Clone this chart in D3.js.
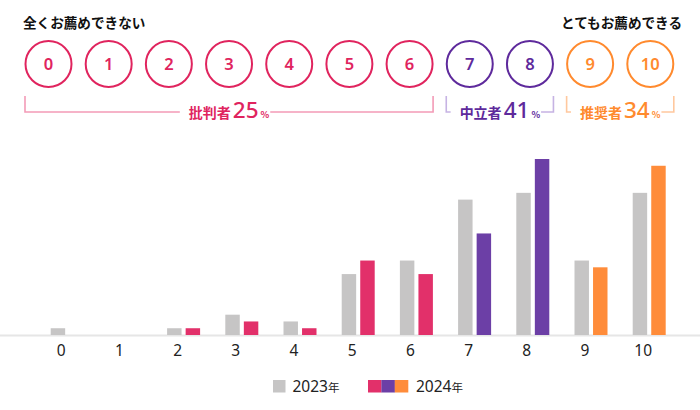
<!DOCTYPE html>
<html>
<head>
<meta charset="utf-8">
<script src="https://cdn.jsdelivr.net/npm/d3@7"></script>
<style>
  html, body { margin: 0; padding: 0; background: #fff; }
  svg { display: block; }
</style>
</head>
<body>
<svg id="chart" width="700" height="410"></svg>
<script>
// ---- data ----
const categories = ["0","1","2","3","4","5","6","7","8","9","10"];
const years = ["2023","2024"];
const values2023 = [1, 0, 1, 3, 2, 9, 11, 20, 21, 11, 21];
const values2024 = [0, 0, 1, 2, 1, 11, 9, 15, 26, 10, 25];
const groupNames = ["批判者", "中立者", "推奨者"];
const groupShares = [25, 41, 34];
const groupMembers = [["0","6"], ["7","8"], ["9","10"]];
const leftLabel = "全くお薦めできない";
const rightLabel = "とてもお薦めできる";
const legendLabels = ["2023", "2024"];

// ---- styles ----
const groupColors = ["#e0245e", "#5e2a9c", "#ff8a2e"];
const groupLight = ["#f39bb7", "#c6b3e3", "#ffc89e"];
const barColors2024 = ["#e2306a", "#6c3fa6", "#ff8c3a"];
const grayColor = "#c6c5c5";
const jp = "'Noto Sans CJK JP', 'Noto Sans', sans-serif";

function groupOf(c) {
  const v = +c;
  return v <= 6 ? 0 : v <= 8 ? 1 : 2;
}

const svg = d3.select("#chart");

// ---- scales ----
const xCircle = d3.scalePoint().domain(categories).range([48.5, 650.3]);
const x = d3.scaleBand().domain(categories).range([38.1, 678.3]).paddingInner(0).paddingOuter(0);
const xSub = d3.scaleBand().domain(years).range([-16.5, 16.5]).paddingInner(0.22);
const y = d3.scaleLinear().domain([0, 26]).range([335, 159]);

// ---- top labels ----
svg.append("text").attr("x", 23).attr("y", 28)
  .attr("font-family", jp).attr("font-weight", 700).attr("font-size", 13.6)
  .attr("fill", "#111").text(leftLabel);
svg.append("text").attr("x", 682).attr("y", 28).attr("text-anchor", "end")
  .attr("font-family", jp).attr("font-weight", 700).attr("font-size", 13.6)
  .attr("fill", "#111").text(rightLabel);

// ---- circles ----
const cg = svg.append("g").selectAll("g").data(categories).join("g")
  .attr("transform", d => `translate(${xCircle(d)},64)`);
cg.append("circle").attr("r", 23).attr("fill", "#fff")
  .attr("stroke", d => groupColors[groupOf(d)]).attr("stroke-width", 2);
cg.append("text").attr("text-anchor", "middle").attr("dy", "0.36em")
  .attr("font-family", "'Noto Sans', sans-serif").attr("font-weight", 600)
  .attr("font-size", 16.5).attr("fill", d => groupColors[groupOf(d)]).text(d => d);

// ---- brackets ----
const r = 24;
groupNames.forEach((name, i) => {
  const x0 = xCircle(groupMembers[i][0]) - r + 0.5;
  const x1 = xCircle(groupMembers[i][1]) + r - 0.5;
  const top = 96, base = 112;
  const g = svg.append("g");
  const t = g.append("text").attr("y", 118).attr("font-family", jp).attr("fill", groupColors[i]);
  t.append("tspan").attr("font-size", 14).attr("font-weight", 700).text(name);
  t.append("tspan").attr("font-size", 22.5).attr("font-weight", 500)
    .attr("font-family", "'Noto Sans', sans-serif").attr("dx", 2).text(groupShares[i]);
  t.append("tspan").attr("font-size", 9).attr("font-weight", 700).attr("dx", 2).text("%");
  const tw = t.node().getComputedTextLength();
  const cx = (x0 + x1) / 2 - 2;
  const tx = cx - tw / 2;
  t.attr("x", tx);
  const gapL = tx - 9, gapR = tx + tw + 5;
  const path = `M${x0},${top}V${base}H${gapL}M${gapR},${base}H${x1}V${top}`;
  g.append("path").attr("d", path).attr("fill", "none")
    .attr("stroke", groupLight[i]).attr("stroke-width", 1.6);
});

// ---- baseline ----
svg.append("line").attr("x1", 0).attr("x2", 700).attr("y1", 335.5).attr("y2", 335.5)
  .attr("stroke", "#e6e6e6").attr("stroke-width", 2);

// ---- bars ----
const bars = svg.append("g");
categories.forEach((c, i) => {
  const cx = x(c) + x.bandwidth() / 2;
  const pairs = [[years[0], values2023[i], grayColor], [years[1], values2024[i], barColors2024[groupOf(c)]]];
  pairs.forEach(([yr, v, col]) => {
    if (v <= 0) return;
    bars.append("rect")
      .attr("x", cx + xSub(yr)).attr("width", xSub.bandwidth())
      .attr("y", y(v)).attr("height", y(0) - y(v))
      .attr("fill", col);
  });
});

// ---- x axis labels ----
const axis = d3.axisBottom(x).tickSize(0).tickPadding(0);
const ax = svg.append("g").attr("transform", "translate(-6,345)").call(axis);
ax.select(".domain").remove();
ax.selectAll("text").attr("font-family", "'Noto Sans', sans-serif").attr("font-size", 15.5)
  .attr("fill", "#222").attr("dy", "0.72em");

// ---- legend ----
const lg = svg.append("g");
lg.append("rect").attr("x", 273).attr("y", 380).attr("width", 12.5).attr("height", 12.5).attr("fill", grayColor);
const l1 = lg.append("text").attr("x", 292.5).attr("y", 391.5).attr("fill", "#222").attr("font-family", "'Noto Sans', sans-serif");
l1.append("tspan").attr("font-size", 15.5).text(legendLabels[0]);
l1.append("tspan").attr("font-size", 11.5).attr("font-family", jp).text("年");
barColors2024.forEach((col, i) => {
  lg.append("rect").attr("x", 368 + i * 13.4).attr("y", 380).attr("width", 13.5).attr("height", 12.5).attr("fill", col);
});
const l2 = lg.append("text").attr("x", 416).attr("y", 391.5).attr("fill", "#222").attr("font-family", "'Noto Sans', sans-serif");
l2.append("tspan").attr("font-size", 15.5).text(legendLabels[1]);
l2.append("tspan").attr("font-size", 11.5).attr("font-family", jp).text("年");
</script>
</body>
</html>
